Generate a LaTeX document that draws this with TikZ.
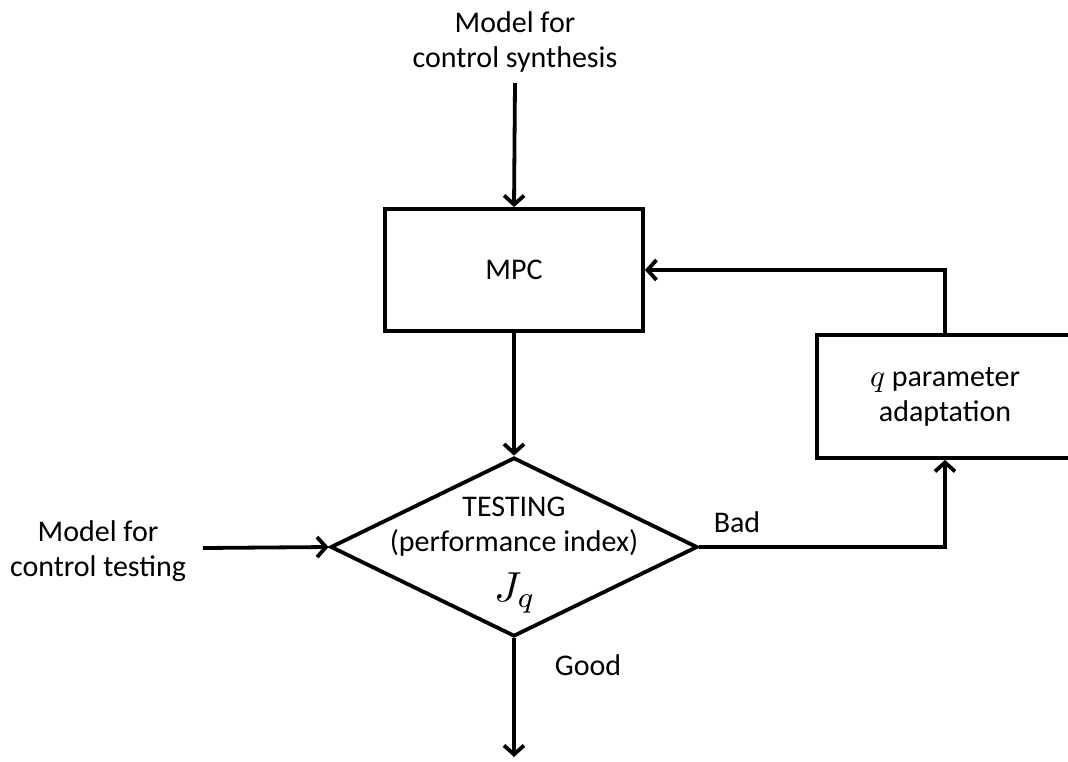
\documentclass[tikz,border=0pt]{standalone}
\usepackage{fontspec}
\setmainfont{Carlito}
\usetikzlibrary{arrows.meta,shapes.geometric}
\newcommand{\myq}{\scalebox{3.1}{\normalsize$q$}}
\begin{document}
\begin{tikzpicture}[x=1pt,y=-1pt,
  every node/.style={font=\fontsize{30}{35}\selectfont},
  blk/.style={draw,line width=3.8pt,rectangle,inner sep=0pt},
  lbl/.style={align=center,inner sep=0pt},
  conn/.style={line width=3.8pt,-{Straight Barb[length=9pt,width=20pt,line width=3.8pt]}}]
\useasboundingbox (0,0) rectangle (1068,761);
\node[lbl] (msyn) at (515,42) {Model for\\control synthesis};
\coordinate (synstart) at (515,83);
\node[blk,minimum width=258pt,minimum height=122pt] (mpc) at (514,270) {MPC};
\node[draw,line width=3.8pt,diamond,minimum width=367pt,minimum height=179pt,inner sep=0pt] (test) at (514,547) {};
\node[lbl] (t1) at (514,507) {TESTING};
\node[lbl] (t2) at (514,543) {(performance index)};
\node[lbl] (jq) at (515,593) {\scalebox{4.2}{\normalsize$J_q$}};
\node[lbl] (mtest) at (98,551) {Model for\\control testing};
\coordinate (teststart) at (203,548);
\node[blk,minimum width=256pt,minimum height=123pt,align=center] (qad) at (945,396.5) {\myq{} parameter\\adaptation};
\coordinate (goodend) at (514,757);
\node[lbl] (bad) at (737,522) {Bad};
\node[lbl] (good) at (588,665) {Good};
\draw[conn] (synstart) -- (mpc.north);
\draw[conn] (mpc.south) -- (test.north);
\draw[conn] (teststart) -- (test.west);
\draw[conn] (test.east) -| (qad.south);
\draw[conn] (qad.north) |- (mpc.east);
\draw[conn] (test.south) -- (goodend);
\end{tikzpicture}
\end{document}
